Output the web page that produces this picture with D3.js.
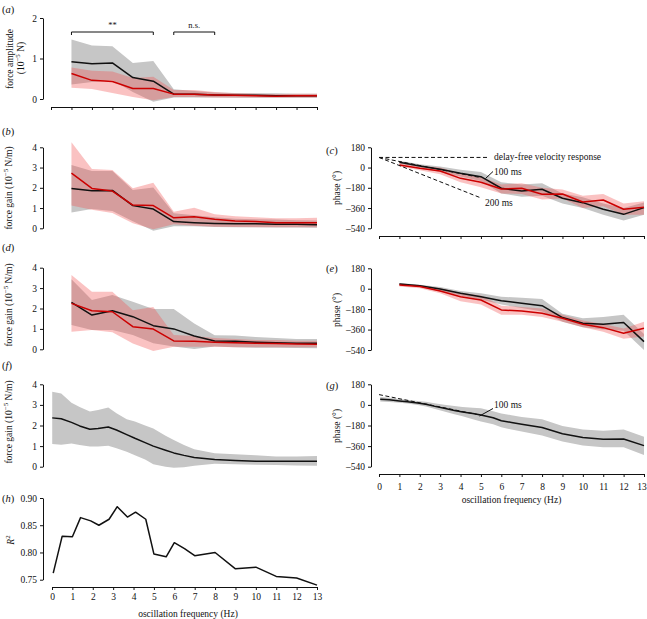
<!DOCTYPE html>
<html><head><meta charset="utf-8">
<script src="https://cdn.jsdelivr.net/npm/d3@7"></script>
<style>
body{margin:0;background:#fff}
svg text{font-family:"Liberation Serif","Times New Roman",serif;fill:#111}
</style>
</head><body>
<svg id="chart" width="647" height="619"></svg>
<script>
// ---------- data ----------
const freqTicks = [0,1,2,3,4,5,6,7,8,9,10,11,12,13];
const freqInt = [1,2,3,4,5,6,7,8,9,10,11,12,13];
const freqFine = [0.06,0.5,1,1.4,1.9,2.3,2.8,3.2,3.7,4.1,4.6,5,5.6,6,6.5,7,8,9,10,11,12,13];

const ampTicks = [0,1,2];
const gainTicks = [0,1,2,3,4];
const phaseTicks = [180,0,-180,-360,-540];
const r2Ticks = [0.75,0.80,0.85,0.90];

// (a) force amplitude
const aBlackMean = [0.92,0.87,0.89,0.53,0.44,0.12,0.12,0.10,0.09,0.09,0.08,0.08,0.08];
const aBlackHi   = [1.47,1.32,1.30,0.89,0.94,0.24,0.20,0.16,0.15,0.14,0.14,0.13,0.13];
const aBlackLo   = [0.36,0.42,0.46,0.17,-0.07,0.04,0.04,0.04,0.03,0.03,0.03,0.03,0.03];
const aRedMean   = [0.63,0.46,0.43,0.26,0.26,0.12,0.12,0.10,0.09,0.08,0.07,0.08,0.08];
const aRedHi     = [0.78,0.70,0.68,0.52,0.55,0.22,0.22,0.17,0.14,0.13,0.12,0.13,0.13];
const aRedLo     = [0.28,0.25,0.15,0.05,-0.03,0.05,0.05,0.04,0.04,0.04,0.04,0.04,0.04];

// (b) force gain
const bRedMean   = [2.72,1.97,1.84,1.15,1.12,0.52,0.57,0.45,0.36,0.33,0.28,0.28,0.28];
const bRedHi     = [4.25,2.93,2.88,1.98,2.25,0.82,1.02,0.70,0.60,0.55,0.50,0.50,0.52];
const bRedLo     = [1.12,0.92,0.75,0.25,-0.05,0.20,0.12,0.08,0.06,0.05,0.05,0.05,0.05];
const bBlackMean = [1.96,1.86,1.87,1.12,0.95,0.33,0.28,0.24,0.22,0.22,0.20,0.20,0.18];
const bBlackHi   = [3.13,2.83,2.83,1.89,2.02,0.74,0.65,0.55,0.47,0.45,0.43,0.40,0.38];
const bBlackLo   = [0.78,0.95,0.85,0.35,-0.12,0.10,0.10,0.06,0.05,0.05,0.04,0.04,0.03];

// (c) phase
const cRedMean   = [23,-7,-31,-96,-131,-190,-184,-238,-235,-306,-288,-371,-353];
const cRedHi     = [40,15,0,-55,-85,-150,-140,-180,-195,-250,-235,-320,-300];
const cRedLo     = [10,-25,-60,-130,-175,-230,-235,-285,-275,-360,-345,-420,-420];
const cBlackMean = [47,14,-16,-51,-81,-184,-208,-193,-273,-312,-371,-416,-356];
const cBlackHi   = [60,30,10,-20,-40,-130,-150,-140,-230,-265,-320,-360,-310];
const cBlackLo   = [35,0,-40,-80,-120,-230,-260,-250,-320,-360,-420,-470,-420];
const delayFree  = [[0,90],[5.3,90]];
const delay100   = [[0,90],[5,-90]];
const delay200   = [[0,90],[5,-270]];

// (d) force gain
const dRedMean   = [2.25,1.89,1.84,1.11,0.99,0.41,0.40,0.35,0.32,0.30,0.28,0.26,0.25];
const dRedHi     = [3.64,2.82,2.82,1.92,2.07,0.70,0.65,0.55,0.50,0.45,0.45,0.42,0.42];
const dRedLo     = [0.86,0.95,0.84,0.29,-0.08,0.13,0.13,0.12,0.10,0.10,0.10,0.10,0.10];
const dBlackMean = [2.30,1.68,1.89,1.60,1.16,1.00,0.65,0.41,0.40,0.35,0.32,0.30,0.30];
const dBlackHi   = [3.43,2.42,2.66,2.33,1.97,1.97,1.27,0.69,0.68,0.60,0.55,0.50,0.50];
const dBlackLo   = [1.19,0.95,0.95,0.70,0.30,0.14,0.02,0.14,0.10,0.08,0.07,0.06,0.05];

// (e) phase
const eRedMean   = [33,19,-20,-70,-99,-187,-196,-216,-260,-313,-343,-393,-349];
const eRedHi     = [45,30,5,-35,-60,-150,-160,-175,-230,-280,-310,-350,-290];
const eRedLo     = [20,5,-40,-110,-140,-230,-230,-250,-290,-340,-380,-440,-420];
const eBlackMean = [42,27,-2,-40,-70,-105,-128,-149,-254,-305,-313,-298,-466];
const eBlackHi   = [50,35,15,-20,-40,-70,-80,-90,-220,-260,-250,-230,-400];
const eBlackLo   = [35,15,-20,-60,-95,-140,-170,-200,-290,-340,-360,-370,-540];

// (f) force gain (pooled)
const fMean = [2.37,2.33,2.15,1.98,1.82,1.85,1.93,1.78,1.56,1.38,1.17,1.00,0.80,0.67,0.55,0.45,0.35,0.30,0.27,0.26,0.26,0.26];
const fHi   = [3.64,3.55,3.10,2.90,2.68,2.75,2.87,2.60,2.30,2.20,2.00,1.85,1.50,1.30,1.05,0.85,0.65,0.60,0.55,0.50,0.50,0.52];
const fLo   = [1.10,1.07,1.13,1.05,0.98,0.98,1.02,0.90,0.72,0.55,0.35,0.12,0.00,-0.05,-0.03,0.05,0.14,0.12,0.10,0.08,0.06,0.05];

// (g) phase (pooled)
const gMean = [50,44,35,28,16,5,-15,-30,-48,-62,-76,-88,-113,-138,-153,-169,-198,-252,-285,-300,-298,-356];
const gHi   = [70,62,52,45,35,28,12,2,-10,-18,-24,-30,-55,-75,-90,-105,-125,-185,-215,-225,-215,-278];
const gLo   = [30,25,18,12,0,-15,-38,-58,-82,-100,-125,-145,-170,-195,-215,-232,-268,-320,-355,-370,-370,-438];
const delay100g = [[0,90],[5,-90]];

// (h) R^2
const r2Values = [0.762,0.830,0.829,0.864,0.858,0.850,0.861,0.884,0.865,0.874,0.861,0.797,0.792,0.818,0.807,0.794,0.800,0.770,0.773,0.756,0.753,0.740];

// ---------- drawing ----------
const svg = d3.select("#chart");
const GREY = "#c6c6c6", PINK = "#f05050", RED = "#cc0000";
const FS = 9.5;

function phaseFmt(d){ return d < 0 ? "\u2013" + Math.abs(d) : String(d); }

function richText(sel, parts){
  parts.forEach(p=>{
    const t = sel.append("tspan").text(p.t);
    if (p.it) t.attr("font-style","italic");
    if (p.sup) t.attr("font-size", 7).attr("dy", -3.5);
    if (p.down) t.attr("dy", 3.5);
  });
  return sel;
}

function panel(o){
  const g = svg.append("g");
  const x = d3.scaleLinear().domain([0,13]).range(o.xr);
  const y = d3.scaleLinear().domain(o.yd).range(o.yr);
  const ya = g.append("g").attr("transform", `translate(${o.ax},0)`)
    .call(d3.axisLeft(y).tickValues(o.yt).tickSize(3).tickSizeOuter(0).tickPadding(3).tickFormat(o.yf));
  ya.attr("font-family", null).attr("font-size", FS);
  if (o.xAxisY != null){
    const xa = g.append("g").attr("transform", `translate(0,${o.xAxisY})`)
      .call(d3.axisBottom(x).tickValues(freqTicks).tickSize(3).tickSizeOuter(0).tickPadding(o.xPad || 3)
        .tickFormat(o.xLabels ? d=>d : ()=>""));
    xa.attr("font-family", null).attr("font-size", FS);
    if (o.xLabels && o.lastShift) xa.selectAll(".tick:last-of-type text").attr("dx", o.lastShift);
  }
  g.selectAll(".domain, .tick line").attr("stroke", "#111");
  (o.bands || []).forEach(b=>{
    const data = b.f.map((f,i)=>[f,b.lo[i],b.hi[i]]);
    g.append("path").datum(data)
      .attr("d", d3.area().x(d=>x(d[0])).y0(d=>y(d[1])).y1(d=>y(d[2])))
      .attr("fill", b.fill).attr("fill-opacity", b.op);
  });
  (o.lines || []).forEach(l=>{
    const data = l.f.map((f,i)=>[f,l.v[i]]);
    g.append("path").datum(data)
      .attr("d", d3.line().x(d=>x(d[0])).y(d=>y(d[1])))
      .attr("fill","none").attr("stroke", l.c).attr("stroke-width", l.w || 1.5)
      .attr("stroke-linejoin","round");
  });
  const lab = g.append("text").attr("x", o.lab[0]).attr("y", o.lab[1])
    .attr("dominant-baseline","central").attr("font-size", 10.5);
  richText(lab, [{t:"("},{t:o.lab[2], it:true},{t:")"}]);
  return {g,x,y};
}

function yTitle(cx, cy, parts){
  const t = svg.append("text").attr("transform", `translate(${cx},${cy}) rotate(-90)`)
    .attr("text-anchor","middle").attr("dominant-baseline","central").attr("font-size", FS);
  richText(t, parts);
}

const leftX = [51,317], rightX = [379,644];
const gainTitle = [{t:"force gain (10"},{t:"\u22125", sup:true},{t:" N/m)", down:true}];
const phaseTitle = [{t:"phase (\u00B0)"}];

// (a)
const pa = panel({xr:leftX, yd:[0,2], yr:[99,18], ax:43, yt:ampTicks, yf:d=>d, xAxisY:107, xLabels:false,
  lab:[2,9,"a"],
  bands:[{f:freqInt, lo:aBlackLo, hi:aBlackHi, fill:GREY, op:1},{f:freqInt, lo:aRedLo, hi:aRedHi, fill:PINK, op:0.35}],
  lines:[{f:freqInt, v:aBlackMean, c:"#111"},{f:freqInt, v:aRedMean, c:RED}]});
yTitle(10, 59, [{t:"force amplitude"}]);
yTitle(21, 58, [{t:"(10"},{t:"\u22125", sup:true},{t:" N)", down:true}]);
function bracket(p, f0, f1, yy, label){
  const x0 = p.x(f0), x1 = p.x(f1);
  p.g.append("path").attr("d", `M${x0},${yy+3}V${yy}H${x1}V${yy+3}`)
    .attr("fill","none").attr("stroke","#111").attr("stroke-width",1);
  p.g.append("text").attr("x",(x0+x1)/2).attr("y",yy-4).attr("text-anchor","middle")
    .attr("font-size",8.5).text(label);
}
bracket(pa, 1, 5, 32, "**");
bracket(pa, 6, 8, 32, "n.s.");

// (b)
panel({xr:leftX, yd:[0,4], yr:[228.3,147.3], ax:43, yt:gainTicks, yf:d=>d, lab:[2,131,"b"],
  bands:[{f:freqInt, lo:bBlackLo, hi:bBlackHi, fill:GREY, op:1},{f:freqInt, lo:bRedLo, hi:bRedHi, fill:PINK, op:0.35}],
  lines:[{f:freqInt, v:bBlackMean, c:"#111"},{f:freqInt, v:bRedMean, c:RED}]});
yTitle(9, 188, gainTitle);

// (c)
const pc = panel({xr:rightX, yd:[-540,180], yr:[228.3,147.3], ax:371, yt:phaseTicks, yf:phaseFmt, xAxisY:236, xLabels:false,
  lab:[326,150,"c"],
  bands:[{f:freqInt, lo:cBlackLo, hi:cBlackHi, fill:GREY, op:1},{f:freqInt, lo:cRedLo, hi:cRedHi, fill:PINK, op:0.35}],
  lines:[{f:freqInt, v:cBlackMean, c:"#111"},{f:freqInt, v:cRedMean, c:RED}]});
yTitle(337, 188, phaseTitle);
function dashed(p, pts){
  p.g.append("path").datum(pts).attr("d", d3.line().x(d=>p.x(d[0])).y(d=>p.y(d[1])))
    .attr("fill","none").attr("stroke","#111").attr("stroke-width",1).attr("stroke-dasharray","4,2.5");
}
dashed(pc, delayFree); dashed(pc, delay100); dashed(pc, delay200);
pc.g.append("text").attr("x", 494).attr("y", pc.y(90)).attr("dominant-baseline","central")
  .attr("font-size",FS).text("delay-free velocity response");
pc.g.append("line").attr("x1",485.5).attr("y1",178.5).attr("x2",493).attr("y2",171.5).attr("stroke","#111").attr("stroke-width",1);
pc.g.append("text").attr("x",494).attr("y",171.5).attr("dominant-baseline","central").attr("font-size",FS).text("100 ms");
pc.g.append("text").attr("x",485).attr("y",203).attr("dominant-baseline","central").attr("font-size",FS).text("200 ms");

// (d)
panel({xr:leftX, yd:[0,4], yr:[349.3,267.7], ax:43, yt:gainTicks, yf:d=>d, lab:[2,247,"d"],
  bands:[{f:freqInt, lo:dBlackLo, hi:dBlackHi, fill:GREY, op:1},{f:freqInt, lo:dRedLo, hi:dRedHi, fill:PINK, op:0.35}],
  lines:[{f:freqInt, v:dBlackMean, c:"#111"},{f:freqInt, v:dRedMean, c:RED}]});
yTitle(9, 305, gainTitle);

// (e)
panel({xr:rightX, yd:[-540,180], yr:[350,268.3], ax:371, yt:phaseTicks, yf:phaseFmt, lab:[326,268,"e"],
  bands:[{f:freqInt, lo:eBlackLo, hi:eBlackHi, fill:GREY, op:1},{f:freqInt, lo:eRedLo, hi:eRedHi, fill:PINK, op:0.35}],
  lines:[{f:freqInt, v:eBlackMean, c:"#111"},{f:freqInt, v:eRedMean, c:RED}]});
yTitle(337, 310, phaseTitle);

// (f)
panel({xr:leftX, yd:[0,4], yr:[466.7,384.3], ax:43, yt:gainTicks, yf:d=>d, lab:[2,365,"f"],
  bands:[{f:freqFine, lo:fLo, hi:fHi, fill:GREY, op:1}],
  lines:[{f:freqFine, v:fMean, c:"#111"}]});
yTitle(9, 422, gainTitle);

// (g)
const pg = panel({xr:rightX, yd:[-540,180], yr:[466.7,384.3], ax:371, yt:phaseTicks, yf:phaseFmt, xAxisY:474, xLabels:true, xPad:6, lastShift:-2.5,
  lab:[326,385,"g"],
  bands:[{f:freqFine, lo:gLo, hi:gHi, fill:GREY, op:1}],
  lines:[{f:freqFine, v:gMean, c:"#111"}]});
yTitle(337, 426, phaseTitle);
dashed(pg, delay100g);
pg.g.append("line").attr("x1",479.5).attr("y1",416).attr("x2",493).attr("y2",408.5).attr("stroke","#111").attr("stroke-width",1);
pg.g.append("text").attr("x",494).attr("y",405).attr("dominant-baseline","central").attr("font-size",FS).text("100 ms");
svg.append("text").attr("x",511.5).attr("y",500).attr("text-anchor","middle").attr("dominant-baseline","central")
  .attr("font-size",FS).text("oscillation frequency (Hz)");

// (h)
panel({xr:[52,317], yd:[0.75,0.90], yr:[579.7,498], ax:43, yt:r2Ticks, yf:d3.format(".2f"), xAxisY:587, xLabels:true, xPad:3,
  lab:[2,498,"h"],
  lines:[{f:freqFine, v:r2Values, c:"#111"}]});
yTitle(11, 540, [{t:"R", it:true},{t:"2", sup:true}]);
svg.append("text").attr("x",188).attr("y",614).attr("text-anchor","middle").attr("dominant-baseline","central")
  .attr("font-size",FS).text("oscillation frequency (Hz)");
</script>
</body></html>
